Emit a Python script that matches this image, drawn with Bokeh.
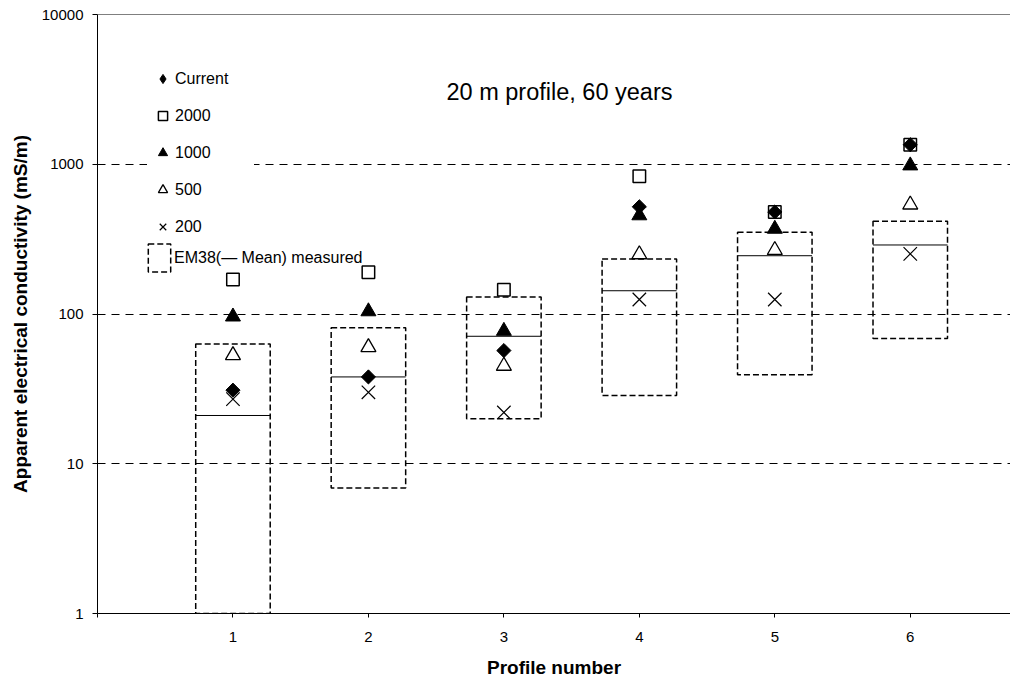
import math
from bokeh.plotting import figure
from bokeh.models import (FixedTicker, NumeralTickFormatter, Span, Label, Legend,
                          LegendItem, ColumnDataSource)
from bokeh.embed import file_html
from bokeh.resources import INLINE

# ---- data ----
profiles = [1, 2, 3, 4, 5, 6]
current = [31, 38, 57, 520, 480, 1350]
ec_2000 = [170, 190, 145, 830, 480, 1350]
ec_1000 = [96, 104, 77, 455, 370, 980]
ec_500 = [53, 60, 45, 250, 267, 537]
ec_200 = [27, 30, 22, 125, 125, 252]
em38_max = [63, 81, 130, 233, 351, 416]
em38_min = [1, 6.9, 20, 28.6, 39.3, 68.7]
em38_mean = [21, 38, 71, 143, 245, 289]

x_ticks = [0, 1, 2, 3, 4, 5, 6]
y_ticks = [1, 10, 100, 1000, 10000]
grid_ticks = [10, 100, 1000]

series_labels = ["Current", "2000", "1000", "500", "200"]
box_label = "EM38(\u2014 Mean) measured"
title_text = "20 m profile, 60 years"
x_title = "Profile number"
y_title = "Apparent electrical conductivity (mS/m)"

FONT = "Liberation Sans"
half_w = 0.275

box_left = [x - half_w for x in profiles]
box_right = [x + half_w for x in profiles]

src = ColumnDataSource(dict(
    x=profiles, current=current, ec_2000=ec_2000, ec_1000=ec_1000,
    ec_500=ec_500, ec_200=ec_200, top=em38_max, bottom=em38_min,
    mean=em38_mean, left=box_left, right=box_right,
))

p = figure(width=1010, height=682, x_range=(0, 6.74), y_range=(1, 10000),
           y_axis_type="log", output_backend="svg", toolbar_location=None,
           title=None, min_border_left=97, min_border_right=0,
           min_border_top=14, min_border_bottom=69)
p.outline_line_color = None
p.background_fill_color = "white"
p.border_fill_color = "white"

# axes
p.xaxis.ticker = FixedTicker(ticks=x_ticks)
p.xaxis.major_label_overrides = {0: ""}
p.xaxis.major_tick_in = 0
p.xaxis.major_tick_out = 4
p.xaxis.minor_tick_line_color = None
p.xaxis.major_label_standoff = 14
p.xaxis.axis_label = x_title
p.xaxis.axis_label_standoff = 12

p.yaxis.ticker = FixedTicker(ticks=y_ticks)
p.yaxis.formatter = NumeralTickFormatter(format="0")
p.yaxis.major_tick_in = 0
p.yaxis.major_tick_out = 5
p.yaxis.minor_tick_line_color = None
p.yaxis.major_label_standoff = 9
p.yaxis.axis_label = y_title
p.yaxis.axis_label_standoff = 8

for ax in (p.xaxis, p.yaxis):
    ax.axis_line_color = "black"
    ax.major_tick_line_color = "black"
    ax.major_label_text_color = "black"
    ax.major_label_text_font = FONT
    ax.major_label_text_font_size = "15px"
    ax.axis_label_text_font = FONT
    ax.axis_label_text_font_size = "19px"
    ax.axis_label_text_font_style = "bold"
    ax.axis_label_text_color = "black"

p.xgrid.visible = False
p.ygrid.ticker = FixedTicker(ticks=grid_ticks)
p.ygrid.grid_line_color = "black"
p.ygrid.grid_line_dash = "8 6"
p.ygrid.grid_line_width = 1

p.add_layout(Span(location=10000, dimension="width", line_color="black", line_width=1))

# EM38 boxes and mean lines
box_r = p.quad(left="left", right="right", bottom="bottom", top="top", source=src,
               fill_color=None, line_color="black", line_width=1.5, line_dash="6 3")
p.segment(x0="left", x1="right", y0="mean", y1="mean", source=src,
          line_color="black", line_width=1)

# markers
r200 = p.scatter("x", "ec_200", source=src, marker="x", size=19,
                 line_color="black", line_width=1.2)
r500 = p.scatter("x", "ec_500", source=src, marker="triangle", size=15,
                 fill_color="white", line_color="black", line_width=1.3)
r1000 = p.scatter("x", "ec_1000", source=src, marker="triangle", size=15,
                  fill_color="black", line_color="black", line_width=1)
r_cur_leg = p.scatter("x", "current", source=src, marker="diamond", size=10,
                      fill_color="black", line_color="black", line_width=1)
r_cur = p.scatter("x", "current", source=src, marker="square", angle=math.pi / 4,
                  size=10, fill_color="black", line_color="black", line_width=1)
r2000 = p.scatter("x", "ec_2000", source=src, marker="square", size=12.5,
                  fill_color=None, line_color="black", line_width=1.5)

legend1 = Legend(
    items=[LegendItem(label=series_labels[0], renderers=[r_cur_leg]),
           LegendItem(label=series_labels[1], renderers=[r2000]),
           LegendItem(label=series_labels[2], renderers=[r1000]),
           LegendItem(label=series_labels[3], renderers=[r500]),
           LegendItem(label=series_labels[4], renderers=[r200])],
    location=(50, 370), glyph_width=23, glyph_height=25, spacing=12, padding=4,
    label_standoff=1, label_width=75, label_text_font=FONT,
    label_text_font_size="16px", label_text_color="black",
    background_fill_color="white", background_fill_alpha=1.0,
    border_line_alpha=0, margin=0)
p.add_layout(legend1)

legend2 = Legend(
    items=[LegendItem(label=box_label, renderers=[box_r])],
    location=(45, 335), glyph_width=28, glyph_height=35, padding=3,
    label_standoff=1, label_text_font=FONT, label_text_font_size="16px",
    label_text_color="black", background_fill_alpha=0.0,
    border_line_alpha=0, margin=0)
p.add_layout(legend2)

p.add_layout(Label(x=462, y=522, x_units="screen", y_units="screen", text=title_text,
                   text_align="center", text_baseline="alphabetic", text_font=FONT,
                   text_font_size="23.5px", text_color="black"))

open("out.html", "w").write(file_html(p, INLINE))
